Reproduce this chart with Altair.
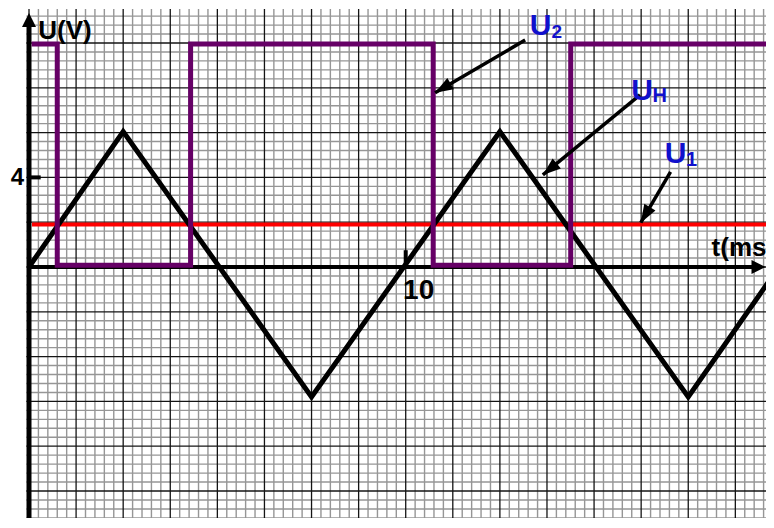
import math
import altair as alt
import numpy as np
import pandas as pd

# ---------------- data ----------------
# triangle voltage U_H (t in ms, U in V)
tri_t = [0, 2.5, 7.5, 12.5, 17.5, 19.78]
tri_u = [0, 6.05, -5.8, 6.05, -5.8, -0.3]
# comparator output U2 (square wave)
u2_t = [0.07, 0.75, 0.75, 4.29, 4.29, 10.73, 10.73, 14.38, 14.38, 19.8]
u2_u = [9.95, 9.95, 0.08, 0.08, 9.95, 9.95, 0.08, 0.08, 9.95, 9.95]
# reference voltage U1
u1_t = [0.08, 19.8]
u1_u = [1.9, 1.9]

# annotation arrows: start (t0,u0) -> tip (t1,u1)
arr_t0 = [13.17, 16.22, 17.03]
arr_u0 = [10.13, 7.68, 4.25]
arr_t1 = [10.78, 13.64, 16.24]
arr_u1 = [7.78, 4.11, 1.98]

# black labels
lab_text = ["U(V)", "10", "t(ms"]
lab_t = [0.247, 9.93, 18.12]
lab_u = [10.18, -1.43, 0.47]
lab_size = [26, 28, 26]
# y tick label (right aligned)
ylab_text = ["4"]
ylab_t = [-0.13]
ylab_u = [3.66]

# blue curve names (main letter + subscript)
name_text = ["U", "2", "U", "H", "U", "1"]
name_t = [13.29, 13.87, 15.99, 16.55, 16.875, 17.44]
name_u = [10.36, 10.21, 7.46, 7.38, 4.63, 4.52]
name_size = [30, 19, 30, 20, 30, 20]

# graph paper: minor step 0.25 ms / 0.4 V, major every 5 minor
minor_dt = 0.25
minor_du = 0.4

# ---------------- layout ----------------
W, H = 758, 510
T_MIN, T_MAX = -0.5575, 19.564
U_MIN, U_MAX = -11.205, 11.5625
PX_T = W / (T_MAX - T_MIN)
PX_U = H / (U_MAX - U_MIN)

xs = alt.Scale(domain=[T_MIN, T_MAX], nice=False, zero=False)
ys = alt.Scale(domain=[U_MIN, U_MAX], nice=False, zero=False)


def X(f):
    return alt.X(f, type="quantitative", scale=xs, axis=None)


def Y(f):
    return alt.Y(f, type="quantitative", scale=ys, axis=None)


FONT = "Liberation Sans"
BLUE = "#1010cc"
PURPLE = "#660066"

# grid frames
vk = np.arange(0, 80)
vt = vk * minor_dt
vgrid = pd.DataFrame({"t": vt, "ut": 11.52, "ub": U_MIN - 1, "major": (vk % 5 == 0)})
hk = np.arange(-28, 29)
hu = hk * minor_du
hgrid = pd.DataFrame({"u": hu, "t1": -0.07, "t2": T_MAX + 1, "major": (hk % 5 == 0)})

minor_v = alt.Chart(vgrid[~vgrid.major]).mark_rule(color="#969696", strokeWidth=1.4).encode(
    x=X("t"), y=Y("ut"), y2="ub")
minor_h = alt.Chart(hgrid[~hgrid.major]).mark_rule(color="#969696", strokeWidth=1.4).encode(
    y=Y("u"), x=X("t1"), x2="t2")
major_v = alt.Chart(vgrid[vgrid.major]).mark_rule(color="#141414", strokeWidth=1.3).encode(
    x=X("t"), y=Y("ut"), y2="ub")
major_h = alt.Chart(hgrid[hgrid.major]).mark_rule(color="#141414", strokeWidth=1.3).encode(
    y=Y("u"), x=X("t1"), x2="t2")

# axes
yaxis = alt.Chart(pd.DataFrame({"t": [0.0], "u1": [11.0], "u2": [U_MIN - 1]})).mark_rule(
    color="black", strokeWidth=5).encode(x=X("t"), y=Y("u1"), y2="u2")
xaxis = alt.Chart(pd.DataFrame({"u": [0.0], "t1": [0.0], "t2": [19.3]})).mark_rule(
    color="black", strokeWidth=4).encode(y=Y("u"), x=X("t1"), x2="t2")
tick4 = alt.Chart(pd.DataFrame({"u": [4.0], "t1": [0.0], "t2": [0.31]})).mark_rule(
    color="black", strokeWidth=4).encode(y=Y("u"), x=X("t1"), x2="t2")
tick10 = alt.Chart(pd.DataFrame({"t": [10.0], "u1": [0.0], "u2": [0.75]})).mark_rule(
    color="black", strokeWidth=4).encode(x=X("t"), y=Y("u1"), y2="u2")

AX_HEAD = "M0,0L-0.5,1L0.5,1Z"
axis_heads = alt.Chart(pd.DataFrame({"t": [0.0, 19.55], "u": [11.34, 0.0], "ang": [0, 90]})).mark_point(
    shape=AX_HEAD, filled=True, size=784, color="black", opacity=1, strokeWidth=0).encode(
    x=X("t"), y=Y("u"), angle=alt.Angle("ang:Q", scale=None))

# curves
u1_line = alt.Chart(pd.DataFrame({"t": u1_t, "u": u1_u, "i": range(len(u1_t))})).mark_line(
    color="#ff0000", strokeWidth=4, clip=True).encode(x=X("t"), y=Y("u"), order="i:Q")
tri_line = alt.Chart(pd.DataFrame({"t": tri_t, "u": tri_u, "i": range(len(tri_t))})).mark_line(
    color="black", strokeWidth=5, strokeJoin="miter", clip=True).encode(x=X("t"), y=Y("u"), order="i:Q")
u2_line = alt.Chart(pd.DataFrame({"t": u2_t, "u": u2_u, "i": range(len(u2_t))})).mark_line(
    color=PURPLE, strokeWidth=5, strokeJoin="miter", clip=True).encode(x=X("t"), y=Y("u"), order="i:Q")

# annotation arrows
arr = pd.DataFrame({"t0": arr_t0, "u0": arr_u0, "t1": arr_t1, "u1": arr_u1})
arr["ang"] = [
    (math.degrees(math.atan2((b - a) * PX_T, (d - c) * PX_U)) + 360) % 360
    for a, b, c, d in zip(arr_t0, arr_t1, arr_u0, arr_u1)
]
shafts = alt.Chart(arr).mark_rule(color="black", strokeWidth=3.5).encode(
    x=X("t0"), y=Y("u0"), x2="t1", y2="u1")
HEAD = "M0,0L-0.36,1L0.36,1Z"
heads = alt.Chart(arr).mark_point(shape=HEAD, filled=True, size=1296, color="black",
                                   opacity=1, strokeWidth=0).encode(
    x=X("t1"), y=Y("u1"), angle=alt.Angle("ang:Q", scale=None))

# texts
labels = alt.Chart(pd.DataFrame({"txt": lab_text, "t": lab_t, "u": lab_u, "s": lab_size})).mark_text(
    font=FONT, fontWeight="bold", align="left", baseline="alphabetic", color="black").encode(
    x=X("t"), y=Y("u"), text="txt:N", size=alt.Size("s:Q", scale=None))
ylabels = alt.Chart(pd.DataFrame({"txt": ylab_text, "t": ylab_t, "u": ylab_u})).mark_text(
    font=FONT, fontWeight="bold", align="right", baseline="alphabetic", color="black", fontSize=24).encode(
    x=X("t"), y=Y("u"), text="txt:N")
names = alt.Chart(pd.DataFrame({"txt": name_text, "t": name_t, "u": name_u, "s": name_size})).mark_text(
    font=FONT, fontWeight="bold", align="left", baseline="alphabetic", color=BLUE).encode(
    x=X("t"), y=Y("u"), text="txt:N", size=alt.Size("s:Q", scale=None))

chart = alt.layer(
    minor_v, minor_h, major_v, major_h,
    xaxis, yaxis, tick4, tick10, axis_heads,
    u1_line, tri_line, u2_line,
    shafts, heads,
    labels, ylabels, names,
).properties(
    width=W, height=H, padding=0, background="white",
    autosize=alt.AutoSizeParams(type="none"),
).configure_view(stroke=None)

chart.save("out.html", embed_options={"renderer": "svg", "actions": False})
